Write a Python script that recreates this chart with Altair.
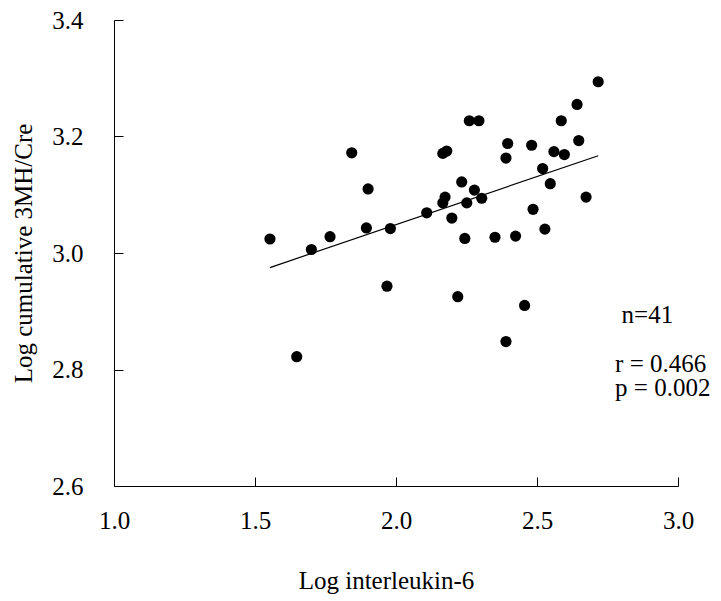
import altair as alt
import pandas as pd

# ---- data ----
il6 = [1.843, 1.901, 1.553, 1.700, 1.766, 1.895, 1.980, 1.968, 1.648,
       2.260, 2.294, 2.396, 2.481, 2.390, 2.166, 2.180, 2.233, 2.278,
       2.304, 2.174, 2.166, 2.251, 2.109, 2.198, 2.486, 2.244, 2.351,
       2.424, 2.219, 2.717, 2.642, 2.586, 2.648, 2.560, 2.597, 2.520,
       2.547, 2.674, 2.528, 2.456, 2.390]
mh = [3.172, 3.110, 3.024, 3.006, 3.028, 3.043, 3.042, 2.943, 2.822,
      3.227, 3.227, 3.188, 3.185, 3.163, 3.171, 3.175, 3.122, 3.108,
      3.094, 3.096, 3.086, 3.086, 3.069, 3.060, 3.075, 3.025, 3.027,
      3.029, 2.925, 3.294, 3.255, 3.227, 3.193, 3.174, 3.169, 3.145,
      3.119, 3.096, 3.041, 2.910, 2.848]
fit_x = [1.553, 2.717]
fit_y = [2.975, 3.167]
x_ticks = [1.0, 1.5, 2.0, 2.5, 3.0]
y_ticks = [2.6, 2.8, 3.0, 3.2, 3.4]
stats_lines = ["n=41", "r = 0.466", "p = 0.002"]
stats_x = [2.80, 2.777, 2.777]
stats_y = [2.880, 2.796, 2.755]

FONT = "Liberation Serif"
FS = 25
W, H = 564, 466

pts_df = pd.DataFrame({"x": il6, "y": mh})
fit_df = pd.DataFrame({"x": fit_x, "y": fit_y})
txt_df = pd.DataFrame({"label": stats_lines, "x": stats_x, "y": stats_y})

xs = alt.Scale(domain=[1.0, 3.0], nice=False, zero=False)
ys = alt.Scale(domain=[2.6, 3.4], nice=False, zero=False)

main_x_axis = alt.Axis(
    orient="bottom", values=x_ticks, format=".1f", ticks=False, tickSize=0,
    grid=False, domain=True, domainColor="black", domainWidth=1,
    labelFont=FONT, labelFontSize=FS, labelColor="black", labelPadding=42,
    labelBaseline="alphabetic", labelFlush=False,
    title="Log interleukin-6", titleFont=FONT, titleFontSize=FS,
    titleFontWeight="normal", titleColor="black",
    titleX=272, titleY=102, titleBaseline="alphabetic", titleAlign="center",
)
main_y_axis = alt.Axis(
    orient="left", values=y_ticks, format=".1f", ticks=False, tickSize=0,
    grid=False, domain=True, domainColor="black", domainWidth=1,
    labelFont=FONT, labelFontSize=FS, labelColor="black", labelPadding=31,
    labelFlush=False,
    title="Log cumulative 3MH/Cre", titleFont=FONT, titleFontSize=FS,
    titleFontWeight="normal", titleColor="black",
    titleX=-83, titleY=233, titleAngle=270, titleBaseline="alphabetic",
    titleAlign="center",
)
tick_x_axis = alt.Axis(
    orient="bottom", values=x_ticks, domain=False, labels=False, ticks=True,
    tickSize=9, tickColor="black", tickWidth=1, offset=-9, grid=False, title=None,
)
tick_y_axis = alt.Axis(
    orient="left", values=y_ticks, domain=False, labels=False, ticks=True,
    tickSize=9, tickColor="black", tickWidth=1, offset=-9, grid=False, title=None,
)

points = alt.Chart(pts_df).mark_circle(size=125, color="black", opacity=1).encode(
    x=alt.X("x:Q", scale=xs, axis=main_x_axis),
    y=alt.Y("y:Q", scale=ys, axis=main_y_axis),
)
fit = alt.Chart(fit_df).mark_line(color="black", strokeWidth=1.2).encode(
    x=alt.X("x:Q", scale=xs, axis=tick_x_axis),
    y=alt.Y("y:Q", scale=ys, axis=tick_y_axis),
)
text = alt.Chart(txt_df).mark_text(
    font=FONT, fontSize=FS, align="left", baseline="alphabetic", color="black"
).encode(
    x=alt.X("x:Q", scale=xs, axis=None),
    y=alt.Y("y:Q", scale=ys, axis=None),
    text="label:N",
)

chart = (
    alt.layer(points, fit, text)
    .resolve_axis(x="independent", y="independent")
    .properties(
        width=W, height=H,
        autosize=alt.AutoSizeParams(type="none"),
        padding={"left": 106, "top": 12, "right": 35, "bottom": 111},
    )
    .configure_view(stroke=None)
    .configure_axis(labelFont=FONT, titleFont=FONT)
    .configure_text(font=FONT)
)

chart.save("out.html", embed_options={"renderer": "svg", "actions": False})
